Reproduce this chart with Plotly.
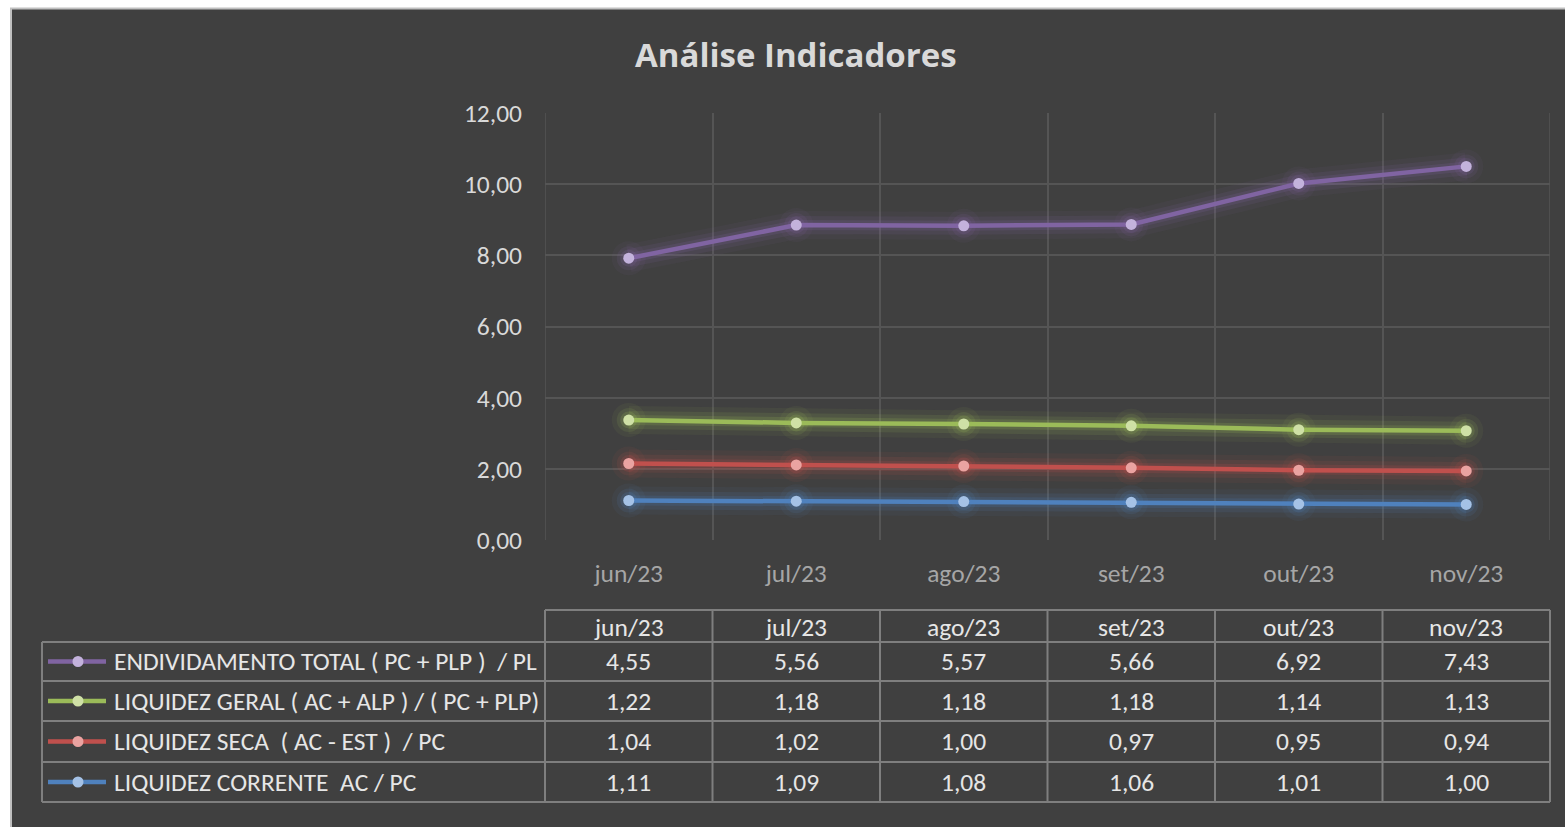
import numpy as np
import plotly.graph_objects as go

months = ["jun/23", "jul/23", "ago/23", "set/23", "out/23", "nov/23"]
series_names = [
    "ENDIVIDAMENTO TOTAL ( PC + PLP )  / PL",
    "LIQUIDEZ GERAL ( AC + ALP ) / ( PC + PLP)",
    "LIQUIDEZ SECA  ( AC - EST )  / PC",
    "LIQUIDEZ CORRENTE  AC / PC",
]
endividamento = [4.55, 5.56, 5.57, 5.66, 6.92, 7.43]
liq_geral = [1.22, 1.18, 1.18, 1.18, 1.14, 1.13]
liq_seca = [1.04, 1.02, 1.00, 0.97, 0.95, 0.94]
liq_corrente = [1.11, 1.09, 1.08, 1.06, 1.01, 1.00]
y_ticks = [0, 2, 4, 6, 8, 10, 12]

W, H = 1565, 827
BG = "#404040"
FONT = "Carlito, Calibri, Lato, sans-serif"
FS = 25.5

def px(x):
    return x / W

def py(y):
    return 1 - y / H

table_values = [endividamento, liq_geral, liq_seca, liq_corrente]
line_colors = ["#8064a2", "#9bbb59", "#c0504d", "#4f81bd"]
marker_colors = ["#c3b2dc", "#cfe0a6", "#eaa3a1", "#a5c2e6"]
glow_rgb = ["128,100,162", "155,187,89", "192,80,77", "79,129,189"]

# stacked line chart (Excel style): bottom series is LIQUIDEZ CORRENTE
stack_order = [3, 2, 1, 0]
cum = np.zeros(len(months))
stacked = {}
for i in stack_order:
    cum = cum + np.array(table_values[i])
    stacked[i] = cum.copy()

xs = list(range(len(months)))
fig = go.Figure()
for width, msize, alpha in [(28, 34, 0.07), (18, 24, 0.12), (10, 17, 0.18)]:
    for i in stack_order:
        c = f"rgba({glow_rgb[i]},{alpha})"
        fig.add_trace(go.Scatter(x=xs, y=stacked[i], mode="lines+markers",
                                 line=dict(color=c, width=width),
                                 marker=dict(size=msize, color=c),
                                 hoverinfo="skip", showlegend=False))
for i in stack_order:
    fig.add_trace(go.Scatter(x=xs, y=stacked[i], mode="lines+markers",
                             name=series_names[i],
                             line=dict(color=line_colors[i], width=4.5),
                             marker=dict(size=11, color=marker_colors[i]),
                             showlegend=False))

plot_l, plot_r, plot_t, plot_b = 545, 1550, 113, 540
grid = "#555555"
fig.update_layout(
    width=W, height=H,
    margin=dict(l=0, r=0, t=0, b=0, pad=0, autoexpand=False),
    showlegend=False,
    paper_bgcolor="white",
    plot_bgcolor=BG,
    font=dict(family=FONT, color="#d9d9d9"),
    xaxis=dict(domain=[px(plot_l), px(plot_r)], range=[-0.5, 5.5],
               tickmode="array", tickvals=xs, ticktext=months,
               showgrid=False, zeroline=False, showline=False,
               ticks="", ticklabelstandoff=15, automargin=False,
               tickfont=dict(size=FS, color="#a6a6a6", family=FONT),
               minor=dict(tickmode="linear", tick0=-0.5, dtick=1,
                          showgrid=True, gridcolor=grid, gridwidth=1.5)),
    yaxis=dict(domain=[py(plot_b), py(plot_t)], range=[0, 12],
               tickmode="array", tickvals=y_ticks,
               ticktext=[f"{v:.2f}".replace(".", ",") for v in y_ticks],
               showgrid=True, gridcolor=grid, gridwidth=1.5,
               zeroline=False, showline=False, ticks="",
               ticklabelstandoff=22, automargin=False,
               tickfont=dict(size=FS, color="#d9d9d9", family=FONT)),
)

shapes = []
shapes.append(dict(type="rect", xref="paper", yref="paper", layer="below",
                   x0=px(11), x1=px(W + 5), y0=py(H + 5), y1=py(8.5),
                   fillcolor=BG, line=dict(color="#bfbfbf", width=2)))
for xe in (-0.5, 5.5):
    shapes.append(dict(type="line", xref="x", yref="y domain", layer="below",
                       x0=xe, x1=xe, y0=0, y1=1,
                       line=dict(color=grid, width=1.5)))

# table
tl, tc, tr = 42, 545, 1550
rows_y = [610, 642, 681, 721, 762, 802]
col_x = [tc + k * (tr - tc) / 6 for k in range(7)]
tcol = "#7f7f7f"
lw = 2
shapes.append(dict(type="line", xref="paper", yref="paper",
                   x0=px(tc), x1=px(tr), y0=py(rows_y[0]), y1=py(rows_y[0]),
                   line=dict(color=tcol, width=lw)))
for y in rows_y[1:]:
    shapes.append(dict(type="line", xref="paper", yref="paper",
                       x0=px(tl), x1=px(tr), y0=py(y), y1=py(y),
                       line=dict(color=tcol, width=lw)))
shapes.append(dict(type="line", xref="paper", yref="paper",
                   x0=px(tl), x1=px(tl), y0=py(rows_y[1]), y1=py(rows_y[-1]),
                   line=dict(color=tcol, width=lw)))
for x in col_x:
    shapes.append(dict(type="line", xref="paper", yref="paper",
                       x0=px(x), x1=px(x), y0=py(rows_y[0]), y1=py(rows_y[-1]),
                       line=dict(color=tcol, width=lw)))

annotations = []
annotations.append(dict(text="<b>Análise Indicadores</b>", x=px(796), y=py(55),
                        xref="paper", yref="paper", showarrow=False,
                        xanchor="center", yanchor="middle",
                        font=dict(size=33, color="#d9d9d9", family="Open Sans, sans-serif")))
for k, m in enumerate(months):
    cx = (col_x[k] + col_x[k + 1]) / 2
    annotations.append(dict(text=m, x=px(cx), y=py((rows_y[0] + rows_y[1]) / 2 + 1),
                            xref="paper", yref="paper", showarrow=False,
                            xanchor="center", yanchor="middle",
                            font=dict(size=FS, color="#e6e6e6", family=FONT)))
for r in range(4):
    cy = (rows_y[r + 1] + rows_y[r + 2]) / 2
    annotations.append(dict(text=series_names[r], x=px(112), y=py(cy),
                            xref="paper", yref="paper", showarrow=False,
                            xanchor="left", yanchor="middle",
                            font=dict(size=FS, color="#e6e6e6", family=FONT)))
    shapes.append(dict(type="line", xref="paper", yref="paper",
                       x0=px(48), x1=px(106), y0=py(cy), y1=py(cy),
                       line=dict(color=line_colors[r], width=4.5)))
    shapes.append(dict(type="circle", xref="paper", yref="paper",
                       x0=px(72.5), x1=px(83.5), y0=py(cy + 5.5), y1=py(cy - 5.5),
                       fillcolor=marker_colors[r], line=dict(width=0)))
    for k in range(6):
        cx = (col_x[k] + col_x[k + 1]) / 2
        annotations.append(dict(text=f"{table_values[r][k]:.2f}".replace(".", ","),
                                x=px(cx), y=py(cy), xref="paper", yref="paper",
                                showarrow=False, xanchor="center", yanchor="middle",
                                font=dict(size=FS, color="#e6e6e6", family=FONT)))

fig.update_layout(shapes=shapes, annotations=annotations)
post = (
    "var gd=document.getElementById('{plot_id}');"
    "gd.style.position='fixed';gd.style.top='0px';gd.style.left='0px';"
    "document.body.style.margin='0';document.body.style.padding='0';"
    "document.documentElement.style.overflow='hidden';document.body.style.overflow='hidden';"
)
fig.write_html("out.html", config={"displayModeBar": False}, post_script=post)
